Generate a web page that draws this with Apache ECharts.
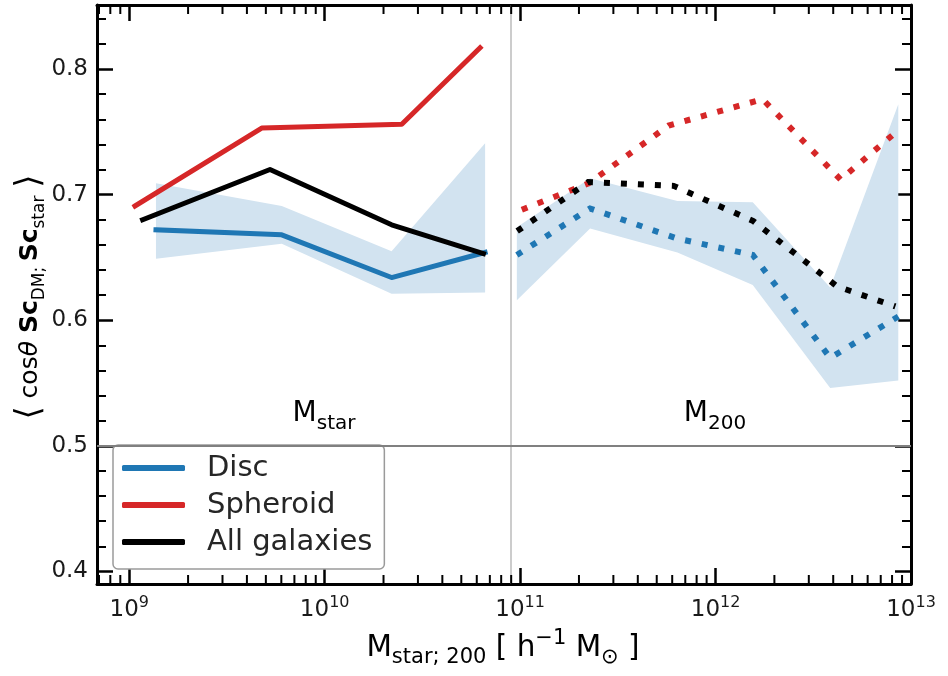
<!DOCTYPE html>
<html><head><meta charset="utf-8">
<script src="https://cdn.jsdelivr.net/npm/echarts@6/dist/echarts.min.js"></script>
<style>html,body{margin:0;padding:0;background:#fff}#c{width:948px;height:676px}</style>
</head><body><div id="c"></div>
<script>
// ---- data ----
const massDiscStar = [1.37e9, 6.03e9, 2.20e10, 6.62e10];
const cosDiscStar = [0.672, 0.668, 0.634, 0.654];
const cosDiscStarLo = [0.649, 0.661, 0.621, 0.622];
const cosDiscStarHi = [0.709, 0.691, 0.655, 0.741];
const massSphStar = [1.07e9, 4.76e9, 2.48e10, 6.24e10];
const cosSphStar = [0.691, 0.753, 0.756, 0.817];
const massAllStar = [1.17e9, 5.25e9, 2.20e10, 6.49e10];
const cosAllStar = [0.680, 0.720, 0.676, 0.653];

const massDisc200 = [9.62e10, 2.28e11, 6.38e11, 1.55e12, 3.86e12, 8.61e12];
const cosDisc200 = [0.652, 0.689, 0.665, 0.652, 0.570, 0.603];
const cosDisc200Lo = [0.616, 0.673, 0.654, 0.628, 0.546, 0.552];
const cosDisc200Hi = [0.674, 0.713, 0.695, 0.694, 0.626, 0.772];
const massSph200 = [1.02e11, 2.24e11, 5.75e11, 1.74e12, 4.36e12, 8.41e12];
const cosSph200 = [0.688, 0.709, 0.755, 0.776, 0.712, 0.750];
const massAll200 = [9.66e10, 2.23e11, 6.10e11, 1.56e12, 4.18e12, 8.32e12];
const cosAll200 = [0.671, 0.710, 0.707, 0.679, 0.627, 0.611];

const legendNames = ['Disc', 'Spheroid', 'All galaxies'];
const divideMass = 9e10;
const refCos = 0.5;
const xMin = Math.pow(10, 8.835), xMax = 1e13;
const yMin = 0.39, yMax = 0.851;

// ---- styling ----
const FONT = 'DejaVu Sans';
const BLUE = '#1f77b4', RED = '#d62728', BLACK = '#000000', BAND = '#d2e3f0';
const TXT = '#1a1a1a';

function pairs(xs, ys) { return xs.map((x, i) => [x, ys[i]]); }

// minor tick positions of the log axis (2..9 x 10^n)
const minorTickMasses = [];
for (let n = 8; n <= 12; n++) {
  for (let k = 2; k <= 9; k++) {
    const v = k * Math.pow(10, n);
    if (v > xMin && v < xMax) minorTickMasses.push(v);
  }
}

function fmtX(v) {
  const e = Math.log10(v);
  if (Math.abs(e - Math.round(e)) > 1e-6) return '';
  return '{b|10}{s|' + Math.round(e) + '}';
}
function fmtY(v) {
  const t = v * 10;
  if (Math.abs(t - Math.round(t)) > 1e-6) return '';
  return v.toFixed(1);
}

const axisLine = { show: true, onZero: false, lineStyle: { color: '#000', width: 3 } };
function xAxisCfg(pos, showLabel) {
  return {
    type: 'log', logBase: 10, position: pos, min: xMin, max: xMax,
    axisLine: axisLine,
    axisTick: { show: true, inside: true, length: 16, lineStyle: { color: '#000', width: 2.5 } },
    minorTick: { show: false },
    splitLine: { show: false }, minorSplitLine: { show: false },
    axisLabel: {
      show: showLabel, margin: 11, formatter: fmtX,
      rich: {
        b: { fontSize: 23, lineHeight: 30, fontFamily: FONT, color: TXT, verticalAlign: 'middle' },
        s: { fontSize: 16, lineHeight: 12, fontFamily: FONT, color: TXT, verticalAlign: 'top' }
      }
    }
  };
}
function yAxisCfg(pos, showLabel) {
  return {
    type: 'value', position: pos, min: yMin, max: yMax, splitNumber: 5,
    axisLine: axisLine,
    axisTick: { show: true, inside: true, length: 16, lineStyle: { color: '#000', width: 2.5 } },
    minorTick: { show: true, splitNumber: 5, length: 9, lineStyle: { color: '#000', width: 2 } },
    splitLine: { show: false }, minorSplitLine: { show: false },
    axisLabel: { show: showLabel, margin: 9, fontSize: 23, fontFamily: FONT, color: TXT, formatter: fmtY }
  };
}

function solid(name, xs, ys, color) {
  return {
    name: name, type: 'line', data: pairs(xs, ys), symbol: 'none', showSymbol: false,
    itemStyle: { color: color }, z: 3,
    lineStyle: { color: color, width: 5, cap: 'square', join: 'round' }
  };
}
function dotted(name, xs, ys, color) {
  return {
    name: name, type: 'line', data: pairs(xs, ys), symbol: 'none', showSymbol: false,
    itemStyle: { color: color }, z: 3,
    lineStyle: { color: color, width: 6, type: [6, 11], cap: 'butt', join: 'miter' }
  };
}
function band(name, xs, lo, hi) {
  return {
    name: name, type: 'custom', silent: true, z: 1, clip: false,
    data: [[xs[0], lo[0]]], encode: { x: 0, y: 1 },
    renderItem: function (params, api) {
      const pts = [];
      for (let i = 0; i < xs.length; i++) pts.push(api.coord([xs[i], hi[i]]));
      for (let i = xs.length - 1; i >= 0; i--) pts.push(api.coord([xs[i], lo[i]]));
      return { type: 'polygon', shape: { points: pts }, style: { fill: BAND } };
    }
  };
}
function refLines() {
  return {
    name: 'refs', type: 'line', data: [[divideMass, refCos]], symbol: 'none', showSymbol: false,
    lineStyle: { opacity: 0 }, z: 0, silent: true,
    markLine: {
      silent: true, symbol: ['none', 'none'], label: { show: false }, animation: false,
      data: [
        { xAxis: divideMass, lineStyle: { color: '#cccccc', width: 2, type: 'solid' } },
        { yAxis: refCos, lineStyle: { color: '#808080', width: 2, type: 'solid' } }
      ]
    }
  };
}
function minorTicks() {
  return {
    name: 'minorTicks', type: 'custom', silent: true, z: 5, clip: false,
    data: minorTickMasses.map(v => [v, yMin]), encode: { x: 0, y: 1 },
    renderItem: function (params, api) {
      const p = api.coord([api.value(0), api.value(1)]);
      const cs = params.coordSys;
      const b = cs.y + cs.height, t = cs.y;
      const st = { stroke: '#000', lineWidth: 2 };
      return {
        type: 'group', children: [
          { type: 'line', shape: { x1: p[0], y1: b, x2: p[0], y2: b - 9 }, style: st },
          { type: 'line', shape: { x1: p[0], y1: t, x2: p[0], y2: t + 9 }, style: st }
        ]
      };
    }
  };
}

const chart = echarts.init(document.getElementById('c'), null, { renderer: 'canvas' });
chart.setOption({
  animation: false,
  backgroundColor: '#ffffff',
  grid: { left: 97, top: 5, width: 814, height: 579, containLabel: false },
  xAxis: [xAxisCfg('bottom', true), xAxisCfg('top', false)],
  yAxis: [yAxisCfg('left', true), yAxisCfg('right', false)],
  legend: {
    data: legendNames, orient: 'vertical', left: 113, top: 445, selectedMode: false,
    icon: 'roundRect', itemWidth: 63, itemHeight: 6, itemGap: 7,
    padding: [8, 12, 12, 9], backgroundColor: '#ffffff', borderColor: '#9a9a9a', borderWidth: 1.5, borderRadius: 5,
    textStyle: { fontSize: 29, fontFamily: FONT, color: '#262626', lineHeight: 30, padding: [0, 0, 0, 17] }
  },
  series: [
    refLines(),
    band('bandStar', massDiscStar, cosDiscStarLo, cosDiscStarHi),
    band('band200', massDisc200, cosDisc200Lo, cosDisc200Hi),
    solid('Disc', massDiscStar, cosDiscStar, BLUE),
    solid('Spheroid', massSphStar, cosSphStar, RED),
    solid('All galaxies', massAllStar, cosAllStar, BLACK),
    dotted('Disc M200', massDisc200, cosDisc200, BLUE),
    dotted('Spheroid M200', massSph200, cosSph200, RED),
    dotted('All galaxies M200', massAll200, cosAll200, BLACK),
    minorTicks()
  ],
  graphic: [
    {
      type: 'text', x: 30, y: 297, rotation: Math.PI / 2, silent: true, z: 10,
      style: {
        text: '{br|⟨}{m| cos}{it|θ}{m| }{b|Sc}{s|DM; }{b|Sc}{s|star}{m| }{br|⟩}',
        align: 'center', verticalAlign: 'middle', textAlign: 'center', textVerticalAlign: 'middle',
        rich: {
          br: { fontSize: 34, lineHeight: 36, fontFamily: FONT, color: TXT, verticalAlign: 'middle' },
          m: { fontSize: 25, lineHeight: 36, fontFamily: FONT, color: TXT, verticalAlign: 'middle' },
          it: { fontSize: 25, lineHeight: 36, fontFamily: FONT, fontStyle: 'italic', color: TXT, verticalAlign: 'middle' },
          b: { fontSize: 25, lineHeight: 36, fontFamily: FONT, fontWeight: 'bold', color: TXT, verticalAlign: 'middle' },
          s: { fontSize: 17, lineHeight: 21, fontFamily: FONT, color: TXT, verticalAlign: 'bottom' }
        }
      }
    },
    {
      type: 'text', x: 503, y: 648, silent: true, z: 10,
      style: {
        text: '{m|M}{s|star; 200}{m| [ h}{u|−1}{m| M}{s|⊙}{m| ]}',
        align: 'center', verticalAlign: 'middle', textAlign: 'center', textVerticalAlign: 'middle',
        rich: {
          m: { fontSize: 29.5, lineHeight: 40, fontFamily: FONT, color: TXT, verticalAlign: 'middle' },
          s: { fontSize: 21, lineHeight: 23, fontFamily: FONT, color: TXT, verticalAlign: 'bottom' },
          u: { fontSize: 21, lineHeight: 25, fontFamily: FONT, color: TXT, verticalAlign: 'top' }
        }
      }
    },
    {
      type: 'text', x: 324, y: 414, silent: true, z: 10,
      style: {
        text: '{m|M}{s|star}',
        align: 'center', verticalAlign: 'middle', textAlign: 'center', textVerticalAlign: 'middle',
        rich: {
          m: { fontSize: 28, lineHeight: 40, fontFamily: FONT, color: '#262626', verticalAlign: 'middle' },
          s: { fontSize: 20, lineHeight: 28, fontFamily: FONT, color: '#262626', verticalAlign: 'bottom' }
        }
      }
    },
    {
      type: 'text', x: 715, y: 414, silent: true, z: 10,
      style: {
        text: '{m|M}{s|200}',
        align: 'center', verticalAlign: 'middle', textAlign: 'center', textVerticalAlign: 'middle',
        rich: {
          m: { fontSize: 28, lineHeight: 40, fontFamily: FONT, color: '#262626', verticalAlign: 'middle' },
          s: { fontSize: 20, lineHeight: 28, fontFamily: FONT, color: '#262626', verticalAlign: 'bottom' }
        }
      }
    }
  ]
});
</script></body></html>
